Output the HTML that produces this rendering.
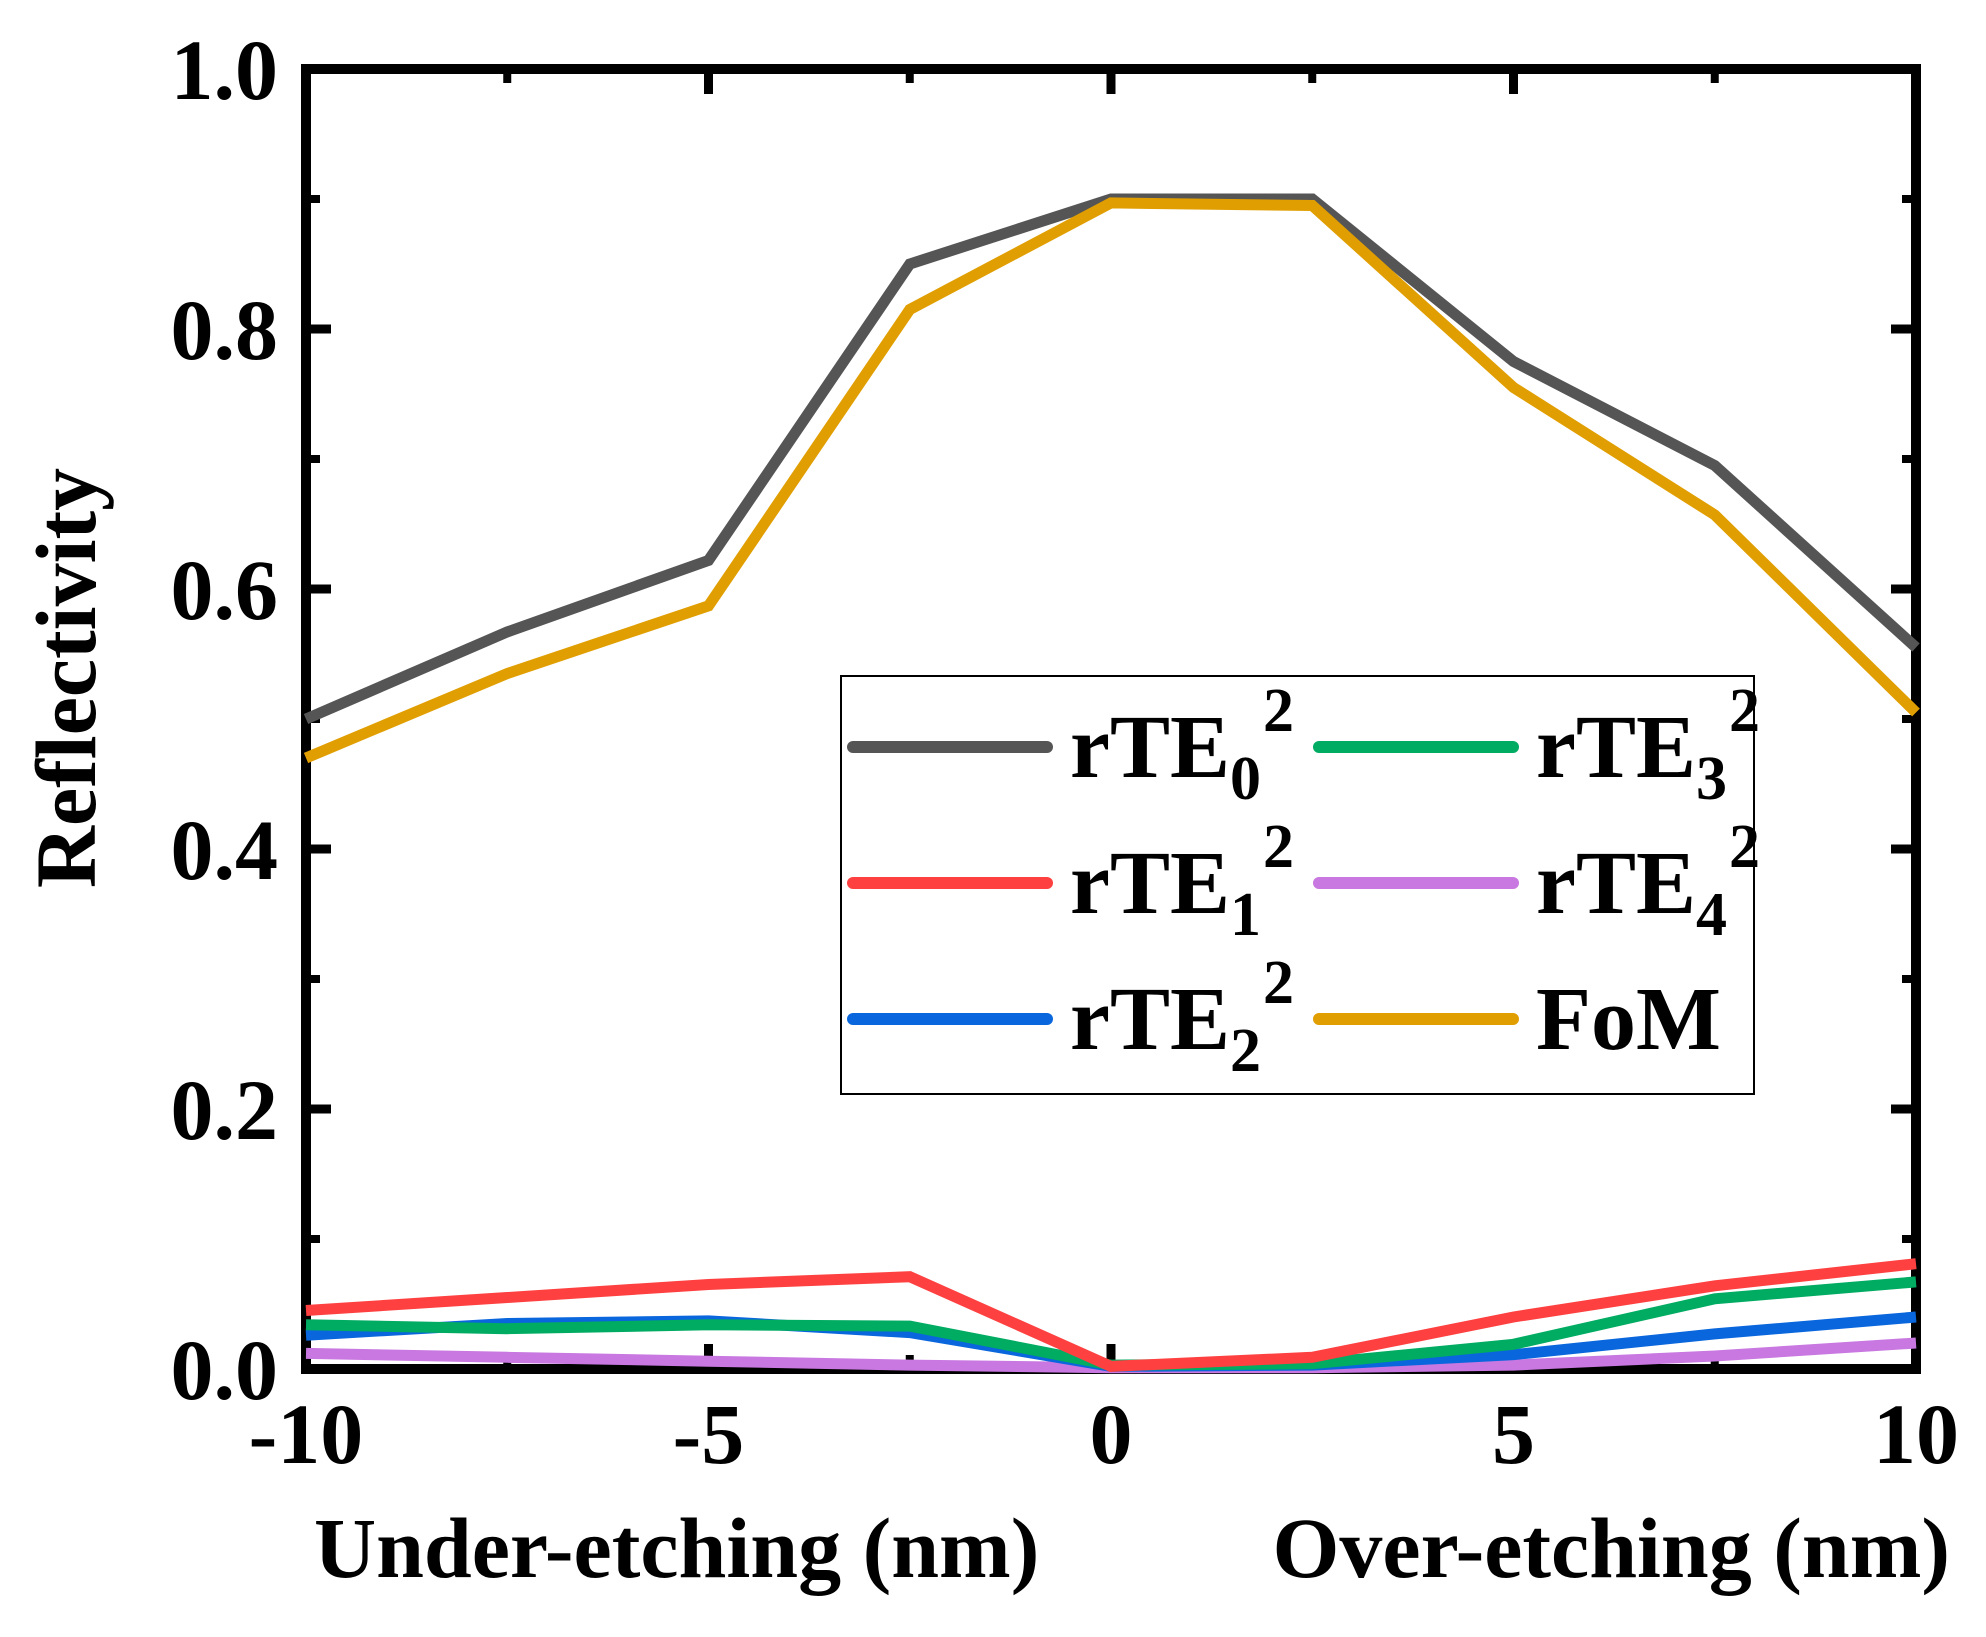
<!DOCTYPE html>
<html><head><meta charset="utf-8"><style>
html,body{margin:0;padding:0;background:#fff;}
svg{display:block;font-family:"Liberation Serif",serif;font-weight:bold;}
</style></head><body>
<svg id="chart" width="1986" height="1637" viewBox="0 0 1986 1637" xmlns="http://www.w3.org/2000/svg">
<g id="axes"></g>
<g id="series"></g>
<g id="legend"></g>
</svg>
<script>
const xValues = [-10, -7.5, -5, -2.5, 0, 2.5, 5, 7.5, 10];
const rTE0 = [0.500, 0.567, 0.622, 0.850, 0.900, 0.900, 0.775, 0.695, 0.555];
const rTE1 = [0.045, 0.055, 0.065, 0.071, 0.002, 0.009, 0.040, 0.064, 0.081];
const rTE2 = [0.026, 0.035, 0.037, 0.028, 0.002, 0.003, 0.011, 0.027, 0.040];
const rTE3 = [0.034, 0.031, 0.034, 0.033, 0.003, 0.004, 0.019, 0.054, 0.067];
const rTE4 = [0.012, 0.009, 0.006, 0.003, 0.001, 0.001, 0.003, 0.010, 0.020];
const FoM  = [0.470, 0.535, 0.587, 0.815, 0.897, 0.895, 0.755, 0.657, 0.505];
const xTicks = [-10, -5, 0, 5, 10];
const xMinorTicks = [-7.5, -2.5, 2.5, 7.5];
const yTicks = [0, 0.2, 0.4, 0.6, 0.8, 1.0];
const yTickLabels = ["0.0", "0.2", "0.4", "0.6", "0.8", "1.0"];
const yMinorTicks = [0.1, 0.3, 0.5, 0.7, 0.9];

const NS = "http://www.w3.org/2000/svg";
const L = 306, R = 1916, T = 69, B = 1369;
function sx(v){ return L + (v + 10) / 20 * (R - L); }
function sy(v){ return B - v * (B - T); }
function mk(tag, attrs, parent){
  const e = document.createElementNS(NS, tag);
  for (const k in attrs) e.setAttribute(k, attrs[k]);
  parent.appendChild(e); return e;
}
const gS = document.getElementById('series');
const gA = document.getElementById('axes');
const gL = document.getElementById('legend');

const series = [
  {name:'rTE4', data:rTE4, color:'#c878e0'},
  {name:'rTE2', data:rTE2, color:'#0a66dc'},
  {name:'rTE3', data:rTE3, color:'#00ab62'},
  {name:'rTE1', data:rTE1, color:'#ff4040'},
  {name:'rTE0', data:rTE0, color:'#555555'},
  {name:'FoM', data:FoM, color:'#e09e00'}
];
series.forEach(s => {
  const pts = s.data.map((v,i) => sx(xValues[i]).toFixed(1) + ',' + sy(v).toFixed(1)).join(' ');
  const p = mk('polyline', {points:pts, fill:'none', stroke:s.color, 'stroke-width':11, 'stroke-linejoin':'miter'}, gS);
  
  
});

// frame
const fr = mk('rect', {x:L, y:T, width:R-L, height:B-T, fill:'none', stroke:'#000', 'stroke-width':10}, gA);



// y ticks (inward)
yTicks.forEach((v,i) => {
  const y = sy(v);
  let t = mk('line', {x1:L, x2:L+25, y1:y, y2:y, stroke:'#000', 'stroke-width':9}, gA);
  
  
  t = mk('line', {x1:R-25, x2:R, y1:y, y2:y, stroke:'#000', 'stroke-width':9}, gA);
  
  
  const lab = mk('text', {x:278, y:y+30, 'text-anchor':'end', 'font-size':86}, gA);
  lab.textContent = yTickLabels[i];
  
  
});
yMinorTicks.forEach(v => {
  const y = sy(v);
  let t = mk('line', {x1:L, x2:L+14, y1:y, y2:y, stroke:'#000', 'stroke-width':8}, gA);
  
  
  t = mk('line', {x1:R-14, x2:R, y1:y, y2:y, stroke:'#000', 'stroke-width':8}, gA);
  
  
});
// x ticks (inward)
xTicks.forEach(v => {
  const x = sx(v);
  let t = mk('line', {x1:x, x2:x, y1:T, y2:T+25, stroke:'#000', 'stroke-width':9}, gA);
  
  
  t = mk('line', {x1:x, x2:x, y1:B-25, y2:B, stroke:'#000', 'stroke-width':9}, gA);
  
  
  const lab = mk('text', {x:x, y:1463, 'text-anchor':'middle', 'font-size':86}, gA);
  lab.textContent = String(v);
  
  
});
xMinorTicks.forEach(v => {
  const x = sx(v);
  let t = mk('line', {x1:x, x2:x, y1:T, y2:T+14, stroke:'#000', 'stroke-width':8}, gA);
  
  
  t = mk('line', {x1:x, x2:x, y1:B-14, y2:B, stroke:'#000', 'stroke-width':8}, gA);
  
  
});
// axis titles
const t1 = mk('text', {x:314, y:1577, 'font-size':86}, gA);
t1.textContent = 'Under-etching (nm)';


const t2 = mk('text', {x:1950, y:1577, 'text-anchor':'end', 'font-size':86}, gA);
t2.textContent = 'Over-etching (nm)';


const t3 = mk('text', {x:0, y:0, 'text-anchor':'middle', 'font-size':86, transform:'translate(95,678) rotate(-90)'}, gA);
t3.textContent = 'Reflectivity';



// legend
const lb = mk('rect', {x:841, y:676, width:913, height:418, fill:'#fff', stroke:'#000', 'stroke-width':2}, gL);


const legendItems = [
  {label:'rTE', sub:'0', color:'#555555', col:0, row:0},
  {label:'rTE', sub:'1', color:'#ff4040', col:0, row:1},
  {label:'rTE', sub:'2', color:'#0a66dc', col:0, row:2},
  {label:'rTE', sub:'3', color:'#00ab62', col:1, row:0},
  {label:'rTE', sub:'4', color:'#c878e0', col:1, row:1},
  {label:'FoM', sub:null, color:'#e09e00', col:1, row:2}
];
legendItems.forEach(it => {
  const x0 = it.col === 0 ? 853 : 1319;
  const y = 747 + it.row * 136;
  const g = mk('g', {}, gL);
  
  
  mk('line', {x1:x0, x2:x0+194, y1:y, y2:y, stroke:it.color, 'stroke-width':12, 'stroke-linecap':'round'}, g);
  const tx = mk('text', {x:x0+217, y:y+30, 'font-size':90}, g);
  tx.appendChild(document.createTextNode(it.label));
  if (it.sub !== null) {
    const s = mk('tspan', {'font-size':62, dy:22}, tx);
    s.textContent = it.sub;
    const p = mk('tspan', {'font-size':62, dy:-68, dx:2}, tx);
    p.textContent = '2';
  }
});
</script>
</body></html>
